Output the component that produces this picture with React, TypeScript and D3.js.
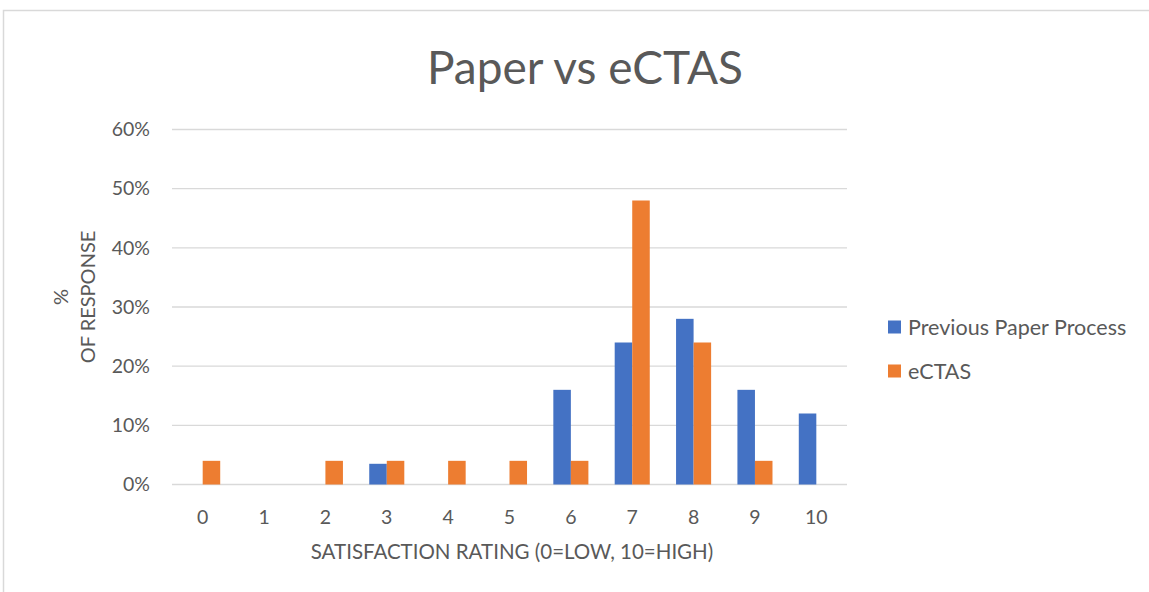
import React, { useEffect, useRef } from 'react';
import * as d3 from 'd3';

const ratings = ['0', '1', '2', '3', '4', '5', '6', '7', '8', '9', '10'];
const seriesNames = ['Previous Paper Process', 'eCTAS'];
const paperValues = [0, 0, 0, 0.035, 0, 0, 0.16, 0.24, 0.28, 0.16, 0.12];
const ectasValues = [0.04, 0, 0.04, 0.04, 0.04, 0.04, 0.04, 0.48, 0.24, 0.04, 0];
const yTicks = [0, 0.1, 0.2, 0.3, 0.4, 0.5, 0.6];
const colors = ['#4472C4', '#ED7D31'];

const W = 1149;
const H = 592;
const FONT = 'Lato, "Open Sans", sans-serif';

const App = () => {
  const svgRef = useRef<SVGSVGElement>(null);

  useEffect(() => {
    const svg = d3.select(svgRef.current);
    svg.selectAll('*').remove();

    // chart frame
    svg.append('rect')
      .attr('x', 3.5).attr('y', 10.5)
      .attr('width', W + 10).attr('height', H + 10)
      .attr('fill', '#fff').attr('stroke', '#d9d9d9').attr('stroke-width', 1.5);

    const x0 = d3.scaleBand().domain(ratings).range([172, 847]).padding(0);
    const x1 = d3.scaleBand().domain(seriesNames).range([0, x0.bandwidth()]).paddingInner(0).paddingOuter(0.75);
    const y = d3.scaleLinear().domain([0, 0.6]).range([484.5, 129.5]);

    // title
    svg.append('text')
      .attr('x', 585).attr('y', 84)
      .attr('text-anchor', 'middle')
      .attr('font-family', FONT).attr('font-size', 46)
      .attr('fill', '#595959')
      .text('Paper vs eCTAS');

    // gridlines + y labels
    const yAxis = svg.append('g');
    yAxis.selectAll('line').data(yTicks).join('line')
      .attr('x1', 172).attr('x2', 847)
      .attr('y1', (d) => y(d)).attr('y2', (d) => y(d))
      .attr('stroke', '#d9d9d9').attr('stroke-width', 1.3);
    yAxis.selectAll('text').data(yTicks).join('text')
      .attr('x', 150).attr('y', (d) => y(d))
      .attr('dy', '0.35em')
      .attr('text-anchor', 'end')
      .attr('font-family', FONT).attr('font-size', 19.5)
      .attr('fill', '#595959')
      .text((d) => d3.format('.0%')(d));

    // bars
    const rows = ratings.map((r, i) => ({ r, vals: [paperValues[i], ectasValues[i]] }));
    const groups = svg.append('g').selectAll('g').data(rows).join('g')
      .attr('transform', (d) => `translate(${x0(d.r)},0)`);
    groups.selectAll('rect')
      .data((d) => d.vals.map((v, k) => ({ v, s: seriesNames[k], k })))
      .join('rect')
      .attr('x', (d) => x1(d.s))
      .attr('y', (d) => y(d.v))
      .attr('width', x1.bandwidth())
      .attr('height', (d) => y(0) - y(d.v))
      .attr('fill', (d) => colors[d.k]);

    // x labels
    svg.append('g').selectAll('text').data(ratings).join('text')
      .attr('x', (d) => x0(d) + x0.bandwidth() / 2)
      .attr('y', 517)
      .attr('dy', '0.35em')
      .attr('text-anchor', 'middle')
      .attr('font-family', FONT).attr('font-size', 19.5)
      .attr('fill', '#595959')
      .text((d) => d);

    // axis titles
    svg.append('text')
      .attr('x', 512).attr('y', 552)
      .attr('dy', '0.35em')
      .attr('text-anchor', 'middle')
      .attr('font-family', FONT).attr('font-size', 20.5)
      .attr('fill', '#595959')
      .text('SATISFACTION RATING (0=LOW, 10=HIGH)');

    const yt = svg.append('text')
      .attr('transform', 'translate(0,297) rotate(-90)')
      .attr('text-anchor', 'middle')
      .attr('font-family', FONT).attr('font-size', 20)
      .attr('fill', '#595959');
    yt.append('tspan').attr('x', 0).attr('y', 68).text('%');
    yt.append('tspan').attr('x', 0).attr('y', 95).text('OF RESPONSE');

    // legend
    const legend = svg.append('g').selectAll('g').data(seriesNames).join('g')
      .attr('transform', (d, i) => `translate(888,${327 + i * 44})`);
    legend.append('rect')
      .attr('x', 0).attr('y', -6.5).attr('width', 13).attr('height', 13)
      .attr('fill', (d, i) => colors[i]);
    legend.append('text')
      .attr('x', 20).attr('y', 0).attr('dy', '0.35em')
      .attr('font-family', FONT).attr('font-size', 21.5)
      .attr('fill', '#595959')
      .text((d) => d);
  }, []);

  return (
    <svg ref={svgRef} width={W} height={H}
      style={{ position: 'absolute', left: 0, top: 0, display: 'block' }} />
  );
};

export default App;
